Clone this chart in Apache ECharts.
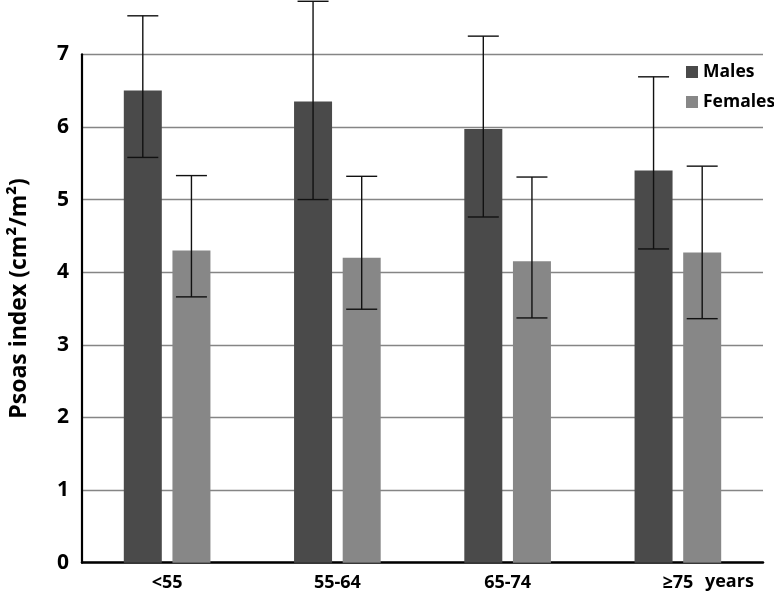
<!DOCTYPE html>
<html>
<head>
<meta charset="utf-8">
<script src="https://cdn.jsdelivr.net/npm/echarts@6/dist/echarts.min.js"></script>
<style>
html,body{margin:0;padding:0;background:#fff;}
#chart{width:774px;height:592px;}
</style>
</head>
<body>
<div id="chart"></div>
<script>
// ---- data ----
var categories = ['<55', '55-64', '65-74', '\u226575'];
var malesMean = [6.50, 6.35, 5.97, 5.40];
var malesLow  = [5.58, 5.00, 4.76, 4.32];
var malesHigh = [7.53, 7.73, 7.25, 6.69];
var femalesMean = [4.30, 4.20, 4.15, 4.27];
var femalesLow  = [3.66, 3.49, 3.37, 3.36];
var femalesHigh = [5.33, 5.32, 5.31, 5.46];
var yTicks = [0, 1, 2, 3, 4, 5, 6, 7];

// ---- style constants ----
var FONT = '"Open Sans", "DejaVu Sans", sans-serif';
var BAR_W = 38;
var GAP_RATIO = 0.28;
var CAP_HALF = 15.5;
var MALE_COLOR = '#4a4a4a';
var FEMALE_COLOR = '#878787';

function errorData(low, high) {
  return categories.map(function (c, i) { return [i, low[i], high[i]]; });
}

function makeErrorSeries(name, low, high, side) {
  return {
    type: 'custom',
    name: name,
    clip: false,
    z: 10,
    silent: true,
    data: errorData(low, high),
    renderItem: function (params, api) {
      var idx = api.value(0);
      var lo = api.coord([idx, api.value(1)]);
      var hi = api.coord([idx, api.value(2)]);
      var offset = side * (BAR_W + BAR_W * GAP_RATIO) / 2;
      var x = lo[0] + offset;
      var st = { stroke: '#111', lineWidth: 1.4 };
      return {
        type: 'group',
        children: [
          { type: 'line', shape: { x1: x, y1: lo[1], x2: x, y2: hi[1] }, style: st },
          { type: 'line', shape: { x1: x - CAP_HALF, y1: hi[1], x2: x + CAP_HALF, y2: hi[1] }, style: st },
          { type: 'line', shape: { x1: x - CAP_HALF, y1: lo[1], x2: x + CAP_HALF, y2: lo[1] }, style: st }
        ]
      };
    }
  };
}

var chart = echarts.init(document.getElementById('chart'), null, { renderer: 'canvas' });
chart.setOption({
  backgroundColor: '#ffffff',
  animation: false,
  grid: { left: 76, right: 11, top: 54.3, bottom: 29.3, containLabel: false },
  legend: {
    orient: 'vertical',
    left: 681,
    top: 58,
    padding: 5,
    itemWidth: 12,
    itemHeight: 12,
    itemGap: 12,
    icon: 'rect',
    data: ['Males', 'Females'],
    textStyle: { fontFamily: FONT, fontWeight: 'bold', fontSize: 17.5, color: '#000' }
  },
  xAxis: {
    type: 'category',
    data: categories,
    axisLine: { show: true, lineStyle: { color: '#000', width: 2.5 } },
    axisTick: { show: false },
    axisLabel: { margin: 11, fontFamily: FONT, fontWeight: 'bold', fontSize: 18, color: '#000' },
    splitLine: { show: false }
  },
  yAxis: {
    type: 'value',
    min: yTicks[0],
    max: yTicks[yTicks.length - 1],
    interval: 1,
    name: 'Psoas index (cm\u00b2/m\u00b2)',
    nameLocation: 'middle',
    nameRotate: 90,
    nameGap: 51,
    nameTextStyle: { fontFamily: FONT, fontWeight: 'bold', fontSize: 23, color: '#000', padding: [0, 0, 0, 20] },
    axisLine: { show: true, lineStyle: { color: '#000', width: 2.2 } },
    axisTick: { show: false },
    axisLabel: { margin: 13, fontFamily: FONT, fontWeight: 'bold', fontSize: 21, color: '#000' },
    splitLine: { show: true, lineStyle: { color: '#858585', width: 1.3 } }
  },
  graphic: [{
    type: 'text',
    left: 705,
    top: 573,
    style: { text: 'years', fontFamily: FONT, fontWeight: 'bold', fontSize: 18, fill: '#000' }
  }],
  series: [
    {
      type: 'bar', name: 'Males', data: malesMean,
      barWidth: BAR_W, barGap: (GAP_RATIO * 100) + '%',
      itemStyle: { color: MALE_COLOR }
    },
    {
      type: 'bar', name: 'Females', data: femalesMean,
      barWidth: BAR_W, barGap: (GAP_RATIO * 100) + '%',
      itemStyle: { color: FEMALE_COLOR }
    },
    makeErrorSeries('Males SD', malesLow, malesHigh, -1),
    makeErrorSeries('Females SD', femalesLow, femalesHigh, 1)
  ]
});
</script>
</body>
</html>
